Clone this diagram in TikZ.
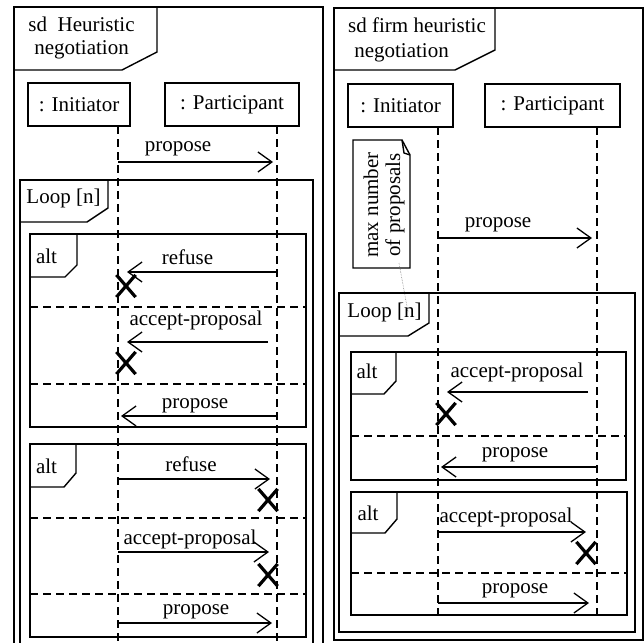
\documentclass[tikz,border=0pt]{standalone}
\usepackage{fontspec}
\setmainfont{Liberation Serif}
\usetikzlibrary{arrows.meta,positioning,calc,shapes.misc}

\begin{document}
\begin{tikzpicture}[x=1pt, y=-1pt,
    frame/.style={line width=1.4pt},
    lifebox/.style={draw, line width=1.4pt, inner sep=0pt, minimum height=43pt, font=\fontsize{21}{23}\selectfont},
    lifeline/.style={line width=1.3pt, dash pattern=on 8pt off 5pt},
    sepline/.style={line width=1.3pt, dash pattern=on 8pt off 5pt},
    msg/.style={line width=1.3pt, -{Straight Barb[length=14pt, width=20pt]}},
    txt/.style={font=\fontsize{21}{23}\selectfont, inner sep=0pt, anchor=base},
    killmark/.style={cross out, draw, line width=3.2pt, inner sep=0pt, minimum width=16pt, minimum height=19pt}]

    \useasboundingbox (0,0) rectangle (644,642);
    \clip (0,0) rectangle (644,642);

    % left diagram
    \draw[frame] (14,7) rectangle (323,660);
    \draw[frame] (14,70) -- (122,70) -- (157,52) -- (157,7);
    \node[txt] (hdA1) at (81.5,32) {sd\ \ Heuristic};
    \node[txt] (hdA2) at (81.5,55) {negotiation};

    \node[lifebox, minimum width=102pt] (iniboxA) at (79,104.5) {: Initiator};
    \node[lifebox, minimum width=134pt] (parboxA) at (232,104.5) {: Participant};
    \coordinate (iniA) at (118,126);
    \coordinate (parA) at (277,126);
    \coordinate (iniAend) at (118,660);
    \coordinate (parAend) at (277,660);
    \draw[lifeline] (iniA) -- (iniAend);
    \draw[lifeline] (parA) -- (parAend);

    \draw[msg, shorten >=4pt] (iniA |- 0,162) -- (parA |- 0,162);
    \node[txt] (mA1) at (178,151) {propose};

    \draw[frame] (20,180) rectangle (313,660);
    \draw[frame] (20,222) -- (87,222) -- (108,208) -- (108,180);
    \node[txt] (loopA) at (63.5,203) {Loop [n]};

    \draw[frame] (30,234) rectangle (306,427);
    \draw[frame] (30,277) -- (65,277) -- (77,265) -- (77,234);
    \node[txt] (altA1) at (46.5,263) {alt};
    \draw[msg, shorten >=9pt] (parA |- 0,272) -- (iniA |- 0,272);
    \node[txt] (mA2) at (187.5,264) {refuse};
    \node[killmark] (xA1) at (126,286) {};
    \draw[sepline] (30,307) -- (306,307);
    \draw[msg, shorten <=9pt, shorten >=9pt] (parA |- 0,342) -- (iniA |- 0,342);
    \node[txt] (mA3) at (196,325) {accept-proposal};
    \node[killmark] (xA2) at (126,363) {};
    \draw[sepline] (30,384) -- (306,384);
    \draw[msg, shorten >=3pt] (parA |- 0,416) -- (iniA |- 0,416);
    \node[txt] (mA4) at (195,408) {propose};

    \draw[frame] (30,444) rectangle (306,637);
    \draw[frame] (30,487) -- (64,487) -- (76,473) -- (76,444);
    \node[txt] (altA2) at (46.5,473) {alt};
    \draw[msg, shorten >=7pt] (iniA |- 0,479) -- (parA |- 0,479);
    \node[txt] (mA5) at (191,471) {refuse};
    \node[killmark] (xA3) at (268,500) {};
    \draw[sepline] (30,518) -- (306,518);
    \draw[msg, shorten >=8pt] (iniA |- 0,552) -- (parA |- 0,552);
    \node[txt] (mA6) at (190,544) {accept-proposal};
    \node[killmark] (xA4) at (268,575) {};
    \draw[sepline] (30,594) -- (306,594);
    \draw[msg, shorten >=5pt] (iniA |- 0,623) -- (parA |- 0,623);
    \node[txt] (mA7) at (196,614) {propose};

    % right diagram
    \draw[frame] (334,8) rectangle (643,640);
    \draw[frame] (334,70) -- (455,70) -- (495,50) -- (495,8);
    \node[txt] (hdB1) at (417,33) {sd firm heuristic};
    \node[txt] (hdB2) at (401.5,57) {negotiation};

    \node[lifebox, minimum width=105pt] (iniboxB) at (400.5,105.5) {: Initiator};
    \node[lifebox, minimum width=135pt] (parboxB) at (552.5,105.5) {: Participant};
    \coordinate (iniB) at (438,127);
    \coordinate (parB) at (597,127);
    \coordinate (iniBend) at (438,617);
    \coordinate (parBend) at (597,617);
    \draw[lifeline] (iniB) -- (iniBend);
    \draw[lifeline] (parB) -- (parBend);

    \draw[frame] (353,140) -- (402,140) -- (410,155) -- (410,268) -- (353,268) -- cycle;
    \draw[frame] (402,140) -- (404,153) -- (410,155);
    \node[font=\fontsize{21}{22}\selectfont, inner sep=0pt, rotate=90, align=center] (noteB) at (384,205) {max number\\of proposals};
    \coordinate (noteBtip) at (399,263);
    \coordinate (loopBn) at (408,312);
    \draw[densely dotted, gray, line width=0.6pt] (noteBtip) -- (loopBn);

    \draw[msg, shorten >=5pt] (iniB |- 0,238) -- (parB |- 0,238);
    \node[txt] (mB1) at (498,227) {propose};

    \draw[frame] (339,293) rectangle (635,632);
    \draw[frame] (339,336) -- (408,336) -- (429,323) -- (429,293);
    \node[txt] (loopB) at (384.5,317) {Loop [n]};

    \draw[frame] (351,352) rectangle (626,480);
    \draw[frame] (351,394) -- (384,394) -- (396,381) -- (396,352);
    \node[txt] (altB1) at (367,378) {alt};
    \draw[msg, shorten <=9pt, shorten >=9pt] (parB |- 0,392) -- (iniB |- 0,392);
    \node[txt] (mB2) at (517,377) {accept-proposal};
    \node[killmark] (xB1) at (446,414) {};
    \draw[sepline] (351,436) -- (626,436);
    \draw[msg, shorten >=3pt] (parB |- 0,467) -- (iniB |- 0,467);
    \node[txt] (mB3) at (515,457) {propose};

    \draw[frame] (351,492) rectangle (627,615);
    \draw[frame] (351,533) -- (385,533) -- (397,519) -- (397,492);
    \node[txt] (altB2) at (368,520) {alt};
    \draw[msg, shorten >=11pt] (iniB |- 0,532) -- (parB |- 0,532);
    \node[txt] (mB4) at (506,522) {accept-proposal};
    \node[killmark] (xB2) at (586,553) {};
    \draw[sepline] (351,573) -- (627,573);
    \draw[msg, shorten >=8pt] (iniB |- 0,603) -- (parB |- 0,603);
    \node[txt] (mB5) at (515,593) {propose};
\end{tikzpicture}
\end{document}
